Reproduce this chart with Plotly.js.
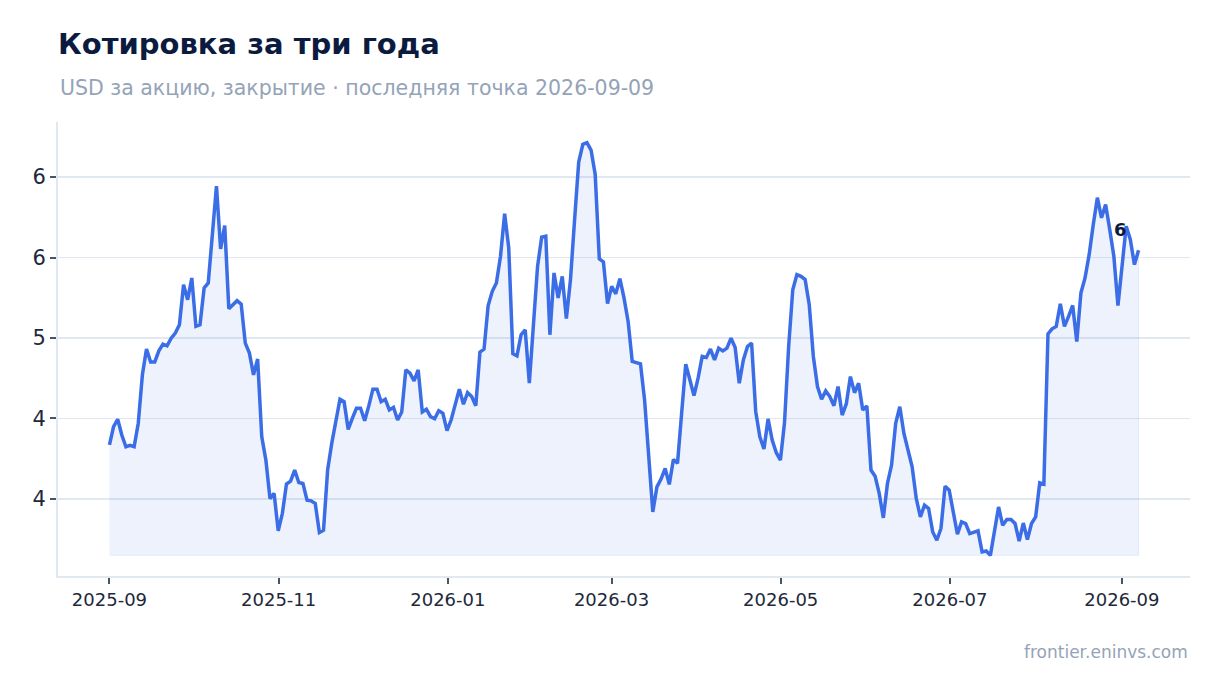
<!DOCTYPE html>
<html>
<head>
<meta charset="utf-8">
<script src="https://cdn.plot.ly/plotly-3.0.1.min.js"></script>
<style>
html,body{margin:0;padding:0;background:#ffffff;}
#chart{width:1220px;height:693px;}
</style>
</head>
<body>
<div id="chart"></div>
<script>
// ---- data ----
const startDate = "2025-09-01";
const endDate = "2026-09-07";
const closePrices = [
4.335, 4.449, 4.495, 4.397, 4.324, 4.333, 4.324, 4.470, 4.771, 4.931,
4.850, 4.850, 4.920, 4.962, 4.951, 4.999, 5.031, 5.082, 5.331, 5.238,
5.373, 5.072, 5.082, 5.311, 5.342, 5.674, 5.944, 5.554, 5.699, 5.182,
5.207, 5.232, 5.211, 4.968, 4.906, 4.771, 4.869, 4.386, 4.241, 4.002,
4.034, 3.801, 3.909, 4.092, 4.110, 4.179, 4.102, 4.096, 3.992, 3.988,
3.971, 3.791, 3.805, 4.179, 4.345, 4.480, 4.619, 4.604, 4.432, 4.501,
4.563, 4.563, 4.486, 4.578, 4.682, 4.682, 4.604, 4.619, 4.553, 4.569,
4.490, 4.540, 4.802, 4.781, 4.733, 4.802, 4.540, 4.557, 4.511, 4.498,
4.548, 4.532, 4.424, 4.490, 4.584, 4.682, 4.588, 4.660, 4.636, 4.579,
4.912, 4.931, 5.201, 5.290, 5.342, 5.508, 5.772, 5.560, 4.902, 4.889,
5.020, 5.051, 4.719, 5.082, 5.445, 5.626, 5.632, 5.020, 5.404, 5.249,
5.383, 5.120, 5.363, 5.736, 6.093, 6.204, 6.214, 6.168, 6.017, 5.492,
5.473, 5.213, 5.321, 5.274, 5.369, 5.249, 5.103, 4.854, 4.844, 4.839,
4.615, 4.262, 3.919, 4.075, 4.123, 4.189, 4.090, 4.245, 4.221, 4.532,
4.837, 4.740, 4.642, 4.750, 4.885, 4.879, 4.931, 4.864, 4.937, 4.920,
4.937, 4.999, 4.941, 4.719, 4.864, 4.947, 4.968, 4.542, 4.386, 4.310,
4.497, 4.366, 4.287, 4.241, 4.476, 4.947, 5.300, 5.394, 5.383, 5.363,
5.207, 4.885, 4.698, 4.619, 4.671, 4.636, 4.579, 4.698, 4.521, 4.590,
4.760, 4.660, 4.719, 4.553, 4.578, 4.179, 4.141, 4.034, 3.882, 4.096,
4.210, 4.470, 4.573, 4.407, 4.303, 4.199, 4.002, 3.888, 3.961, 3.940,
3.794, 3.743, 3.816, 4.079, 4.054, 3.930, 3.780, 3.857, 3.847, 3.784,
3.794, 3.801, 3.670, 3.676, 3.649, 3.816, 3.950, 3.836, 3.872, 3.872,
3.847, 3.738, 3.850, 3.747, 3.847, 3.888, 4.100, 4.092, 5.026, 5.057,
5.072, 5.213, 5.072, 5.134, 5.202, 4.978, 5.280, 5.373, 5.518, 5.705,
5.872, 5.747, 5.830, 5.674, 5.508, 5.201, 5.425, 5.695, 5.612, 5.456,
5.545
];
const yTickVals = [4.0, 4.5, 5.0, 5.5, 6.0];
const yTickText = ["4", "4", "5", "6", "6"];
const xTickStart = "2025-09-01";
const titleText = "Котировка за три года";
const subtitleText = "USD за акцию, закрытие · последняя точка 2026-09-09";
const sourceText = "frontier.eninvs.com";

// ---- build ----
const FONT = "DejaVu Sans, Noto Sans, sans-serif";
const t0 = Date.parse(startDate + "T00:00:00Z");
const t1 = Date.parse(endDate + "T00:00:00Z");
const n = closePrices.length;
const dates = closePrices.map((_, i) => t0 + (t1 - t0) * i / (n - 1));

const minV = Math.min(...closePrices);
const maxV = Math.max(...closePrices);
const spanV = maxV - minV;
const spanT = t1 - t0;

const polyX = dates.concat(dates.slice().reverse());
const polyY = closePrices.concat(closePrices.map(() => minV));

const lastX = dates[n - 1];
const lastY = closePrices[n - 1];

const traces = [
  {
    type: "scatter", mode: "lines",
    x: polyX, y: polyY,
    fill: "toself",
    fillcolor: "rgba(59,110,230,0.085)",
    line: {color: "rgba(59,110,230,0.10)", width: 1},
    hoverinfo: "skip", showlegend: false
  },
  {
    type: "scatter", mode: "lines",
    x: dates, y: closePrices,
    line: {color: "#3b6de6", width: 3.5},
    showlegend: false
  }
];

const layout = {
  width: 1220, height: 693,
  paper_bgcolor: "#ffffff", plot_bgcolor: "#ffffff",
  margin: {l: 58, r: 30, t: 122, b: 117},
  font: {family: FONT, color: "#1e293b"},
  title: {
    text: titleText,
    xref: "container", yref: "container",
    x: 58 / 1220, xanchor: "left",
    y: 1 - 44 / 693, yanchor: "middle",
    font: {family: FONT, size: 29, weight: 700, color: "#0b1b40"}
  },
  xaxis: {
    type: "date",
    range: [t0 - 0.05 * spanT, t1 + 0.05 * spanT],
    tick0: xTickStart, dtick: "M2", tickformat: "%Y-%m",
    showgrid: false, zeroline: false,
    showline: true, linecolor: "#e2e8f0", linewidth: 2,
    ticks: "outside", ticklen: 6, tickwidth: 2, tickcolor: "#475569",
    tickfont: {family: FONT, size: 18, color: "#1e293b"}
  },
  yaxis: {
    range: [minV - 0.05 * spanV, maxV + 0.05 * spanV],
    tickmode: "array", tickvals: yTickVals, ticktext: yTickText,
    showgrid: true, gridcolor: "#e2e8f0", gridwidth: 1.5,
    zeroline: false,
    showline: true, linecolor: "#e2e8f0", linewidth: 2,
    ticks: "outside", ticklen: 6, tickwidth: 2, tickcolor: "#475569",
    tickfont: {family: FONT, size: 21, color: "#1e293b"}
  },
  annotations: [
    {
      text: subtitleText, showarrow: false,
      xref: "paper", yref: "paper", x: 0, y: 1 + 34 / 454,
      xanchor: "left", yanchor: "middle",
      font: {family: FONT, size: 20.5, color: "#94a3b8"}
    },
    {
      text: sourceText, showarrow: false,
      xref: "paper", yref: "paper", x: 1, y: -76 / 454,
      xanchor: "right", yanchor: "middle",
      font: {family: FONT, size: 17, color: "#94a3b8"}
    },
    {
      text: String(Math.round(lastY)), showarrow: false,
      xref: "x", yref: "y", x: lastX, y: lastY,
      xanchor: "center", yanchor: "middle",
      xshift: -18, yshift: 21,
      font: {family: FONT, size: 18, weight: 700, color: "#0b1b40"}
    }
  ]
};

Plotly.newPlot("chart", traces, layout, {displayModeBar: false, responsive: false, staticPlot: true});
</script>
</body>
</html>
